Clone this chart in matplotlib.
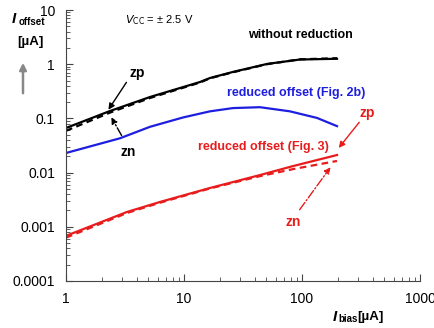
import matplotlib
matplotlib.use('Agg')
import matplotlib.pyplot as plt

plt.rcParams['font.family'] = ['Liberation Sans', 'DejaVu Sans']

# bias current [uA]
ibias_black = [1.0, 2.36, 5.15, 13.7, 16.6, 26, 50.5, 96, 198]
zp_black = [0.0665, 0.137, 0.248, 0.47, 0.556, 0.72, 1.01, 1.22, 1.26]
zn_black = [0.0590, 0.128, 0.238, 0.46, 0.55, 0.71, 1.00, 1.23, 1.29]

ibias_blue = [1.0, 2.87, 5.15, 9.8, 16.6, 26, 44, 79, 134, 198]
off_blue = [0.023, 0.043, 0.070, 0.104, 0.135, 0.155, 0.161, 0.135, 0.102, 0.072]

ibias_red = [1.0, 3.29, 6.25, 16.6, 44, 84, 198]
zp_red = [0.00068, 0.00188, 0.00287, 0.0052, 0.0090, 0.0132, 0.0211]
zn_red = [0.00063, 0.00180, 0.00278, 0.0051, 0.0086, 0.0116, 0.0164]

xticks = [1, 10, 100, 1000]
xticklabels = ['1', '10', '100', '1000']
yticks = [0.0001, 0.001, 0.01, 0.1, 1, 10]
yticklabels = ['0.0001', '0.001', '0.01', '0.1', '1', '10']

black = 'black'
blue = '#1e1ee0'
red = '#e81c1c'

fig = plt.figure(figsize=(4.34, 3.28), dpi=100)
ax = fig.add_axes([66/434, 1-281/328, (420-66)/434, (281-10)/328])

ax.plot(ibias_black, zp_black, color=black, lw=1.6)
ax.plot(ibias_black, zn_black, color=black, lw=1.6, ls=(0, (3, 2)))
ax.plot(ibias_blue, off_blue, color=blue, lw=1.6)
ax.plot(ibias_red, zp_red, color=red, lw=1.6)
ax.plot(ibias_red, zn_red, color=red, lw=1.6, ls=(0, (3, 2)))

ax.set_xscale('log')
ax.set_yscale('log')
ax.set_xlim(1, 1000)
ax.set_ylim(0.0001, 10)
ax.set_xticks(xticks)
ax.set_xticklabels(xticklabels)
ax.set_yticks(yticks)
ax.set_yticklabels(yticklabels)
ax.tick_params(which='both', direction='in', labelsize=10, color='#444444')
ax.tick_params(which='major', length=5, pad=8)
ax.tick_params(which='minor', length=3)
ax.spines['top'].set_visible(False)
ax.spines['right'].set_visible(False)
for s in ['left', 'bottom']:
    ax.spines[s].set_color('#444444')

# texts on the plot
ax.text(3.16, 6.5, r'$V_{\mathrm{CC}}$ = ± 2.5 V', fontsize=8, ha='left', va='center')
ax.text(96, 3.46, 'without reduction', fontsize=9, weight='bold', ha='center', va='center')
ax.text(89, 0.294, 'reduced offset (Fig. 2b)', fontsize=9, weight='bold', color=blue,
        ha='center', va='center')
ax.text(46.7, 0.0296, 'reduced offset (Fig. 3)', fontsize=9, weight='bold', color=red,
        ha='center', va='center')

# zp / zn arrows
ax.text(4.0, 0.69, 'zp', fontsize=10, weight='bold', ha='center', va='center')
ax.annotate('', xy=(2.22, 0.131), xytext=(3.35, 0.51),
            arrowprops=dict(arrowstyle='-|>', color=black, lw=1, mutation_scale=9))
ax.text(3.35, 0.024, 'zn', fontsize=10, weight='bold', ha='center', va='center')
ax.annotate('', xy=(2.36, 0.116), xytext=(3.04, 0.0435),
            arrowprops=dict(arrowstyle='-|>', color=black, lw=1, ls='-.', mutation_scale=9))

ax.text(356, 0.126, 'zp', fontsize=10, weight='bold', color=red, ha='center', va='center')
ax.annotate('', xy=(198, 0.026), xytext=(316, 0.093),
            arrowprops=dict(arrowstyle='-|>', color=red, lw=1, mutation_scale=9))
ax.text(84, 0.00123, 'zn', fontsize=10, weight='bold', color=red, ha='center', va='center')
ax.annotate('', xy=(180, 0.0138), xytext=(92.5, 0.00188),
            arrowprops=dict(arrowstyle='-|>', color=red, lw=1, ls='-.', mutation_scale=9))

# y axis label
fig.text(12/434, 1-19/328, 'I', fontsize=11, weight='bold', style='italic', va='center')
fig.text(19/434, 1-22/328, 'offset', fontsize=7, weight='bold', va='center')
fig.text(30/434, 1-42/328, '[µA]', fontsize=9.5, weight='bold', ha='center', va='center')
ax.annotate('', xy=(23, 328-60), xytext=(23, 328-96), xycoords='figure pixels',
            textcoords='figure pixels',
            arrowprops=dict(arrowstyle='-|>', color='#888888', lw=1.8, mutation_scale=10))

# x axis label
fig.text(333/434, 1-317/328, 'I', fontsize=11, weight='bold', style='italic', va='center')
fig.text(338/434, 1-319/328, 'bias', fontsize=7, weight='bold', va='center')
fig.text(357/434, 1-317/328, '[µA]', fontsize=9.5, weight='bold', ha='left', va='center')

fig.savefig('out.png', dpi=100)
